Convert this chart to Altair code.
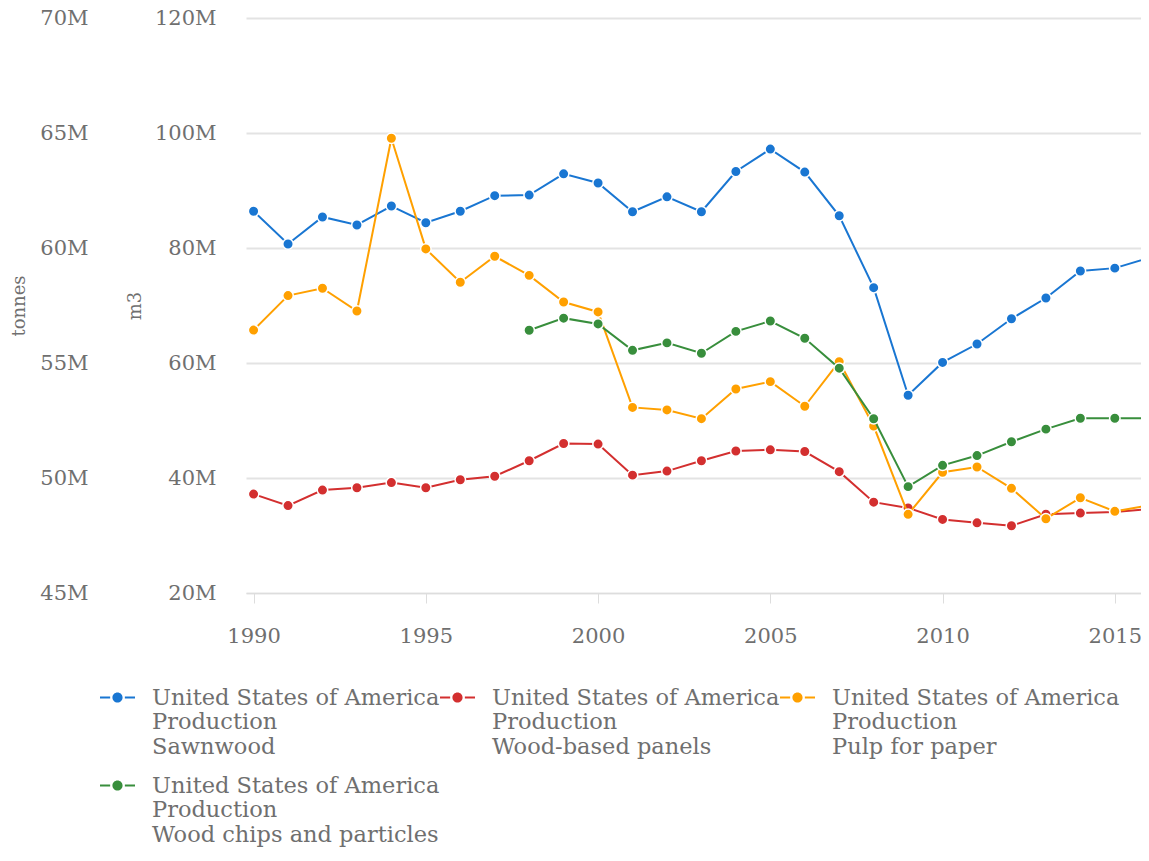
import altair as alt
import pandas as pd

years = list(range(1990, 2017))

sawnwood = [86.4, 80.7, 85.4, 84.0, 87.3, 84.4, 86.4, 89.1, 89.2, 92.9, 91.3, 86.3, 88.9,
            86.3, 93.3, 97.2, 93.2, 85.6, 73.1, 54.4, 60.1, 63.3, 67.7, 71.3, 76.0, 76.5, 78.3]
panels = [37.2, 35.2, 37.9, 38.3, 39.2, 38.3, 39.7, 40.3, 43.0, 46.0, 45.9, 40.5, 41.2,
          43.0, 44.7, 44.9, 44.6, 41.1, 35.8, 34.8, 32.8, 32.2, 31.7, 33.7, 33.9, 34.1, 34.6]
pulp = [56.43, 57.93, 58.25, 57.26, 64.77, 59.96, 58.51, 59.64, 58.81, 57.65, 57.22, 53.07, 52.96,
        52.58, 53.87, 54.19, 53.12, 55.06, 52.26, 48.42, 50.25, 50.48, 49.55, 48.23, 49.14, 48.55, 48.81]
chip_years = list(range(1998, 2017))
chips = [65.7, 67.8, 66.8, 62.2, 63.5, 61.7, 65.5, 67.3, 64.3, 59.1, 50.3, 38.5, 42.2, 43.9,
         46.3, 48.5, 50.4, 50.4, 50.4]

series_names = [
    "United States of America|Production|Sawnwood",
    "United States of America|Production|Wood-based panels",
    "United States of America|Production|Pulp for paper",
    "United States of America|Production|Wood chips and particles",
]
colors = ["#1976d2", "#d32f2f", "#ffa000", "#388e3c"]

FONT = "DejaVu Serif"
GRAY = "#6f6f6f"

LEGEND_SYMBOL = (
    "M-1,-0.06H-0.42V0.06H-1Z "
    "M0.42,-0.06H1V0.06H0.42Z "
    "M-0.29,0A0.29,0.29 0 1,0 0.29,0A0.29,0.29 0 1,0 -0.29,0Z"
)


def frame(xs, vals, name):
    return pd.DataFrame({"year": xs, "value": [v * 1e6 for v in vals], "series": name})


df_saw = frame(years, sawnwood, series_names[0])
df_pan = frame(years, panels, series_names[1])
df_pulp = frame(years, pulp, series_names[2])
df_chip = frame(chip_years, chips, series_names[3])

color = alt.Color(
    "series:N",
    scale=alt.Scale(domain=series_names, range=colors),
    legend=alt.Legend(
        title=None,
        orient="none",
        legendX=-146,
        legendY=662,
        columns=3,
        direction="horizontal",
        labelExpr="split(datum.label, '|')",
        labelFont=FONT,
        labelFontSize=22.5,
        labelColor=GRAY,
        labelLimit=600,
        labelOffset=17,
        columnPadding=0,
        rowPadding=10,
        symbolType=LEGEND_SYMBOL,
        symbolSize=1225,
        symbolStrokeWidth=0,
        symbolOpacity=1,
    ),
)

x = alt.X(
    "year:Q",
    scale=alt.Scale(domain=[1989.78, 2015.76], nice=False, zero=False),
    axis=alt.Axis(
        title=None,
        values=[1990, 1995, 2000, 2005, 2010, 2015],
        format="d",
        labelFont=FONT,
        labelFontSize=21,
        labelColor=GRAY,
        labelPadding=22,
        tickSize=10,
        tickColor="#dddddd",
        domainColor="#dddddd",
        grid=False,
    ),
)

m3_scale = alt.Scale(domain=[20e6, 120e6], nice=False, zero=False)
t_scale = alt.Scale(domain=[45e6, 70e6], nice=False, zero=False)


def line_layer(df, scale, axis):
    return (
        alt.Chart(df)
        .mark_line(strokeWidth=2, point=alt.OverlayMarkDef(filled=True, size=110, stroke="white", strokeWidth=1.5, opacity=1))
        .encode(
            x=x,
            y=alt.Y("value:Q", scale=scale, axis=axis),
            color=color,
        )
    )


m3_axis = alt.Axis(
    title="m3",
    orient="left",
    values=[20e6, 40e6, 60e6, 80e6, 100e6, 120e6],
    format="~s",
    labelFont=FONT,
    labelFontSize=21,
    labelColor=GRAY,
    titleFont=FONT,
    titleFontSize=18,
    titleFontWeight="normal",
    titleColor=GRAY,
    titlePadding=10,
    ticks=False,
    domain=False,
    offset=28,
    labelPadding=2,
    grid=True,
    gridColor="#e3e3e3",
    gridWidth=2,
)

t_axis = alt.Axis(
    title="tonnes",
    orient="left",
    values=[45e6, 50e6, 55e6, 60e6, 65e6, 70e6],
    format="~s",
    labelFont=FONT,
    labelFontSize=21,
    labelColor=GRAY,
    titleFont=FONT,
    titleFontSize=18,
    titleFontWeight="normal",
    titleColor=GRAY,
    titlePadding=11,
    ticks=False,
    domain=False,
    offset=156,
    labelPadding=2,
    grid=False,
)

saw = line_layer(df_saw, m3_scale, m3_axis)
pan = line_layer(df_pan, m3_scale, None)
pul = line_layer(df_pulp, t_scale, t_axis)
chp = line_layer(df_chip, m3_scale, None)

chart = (
    alt.layer(saw, pan, pul, chp)
    .resolve_scale(y="independent")
    .properties(
        width=895,
        height=575,
        autosize=alt.AutoSizeParams(type="none"),
        padding={"top": 10, "left": 238, "right": 0, "bottom": 258},
    )
    .configure_view(stroke=None)
)

chart.save("out.html", embed_options={"renderer": "svg", "actions": False})
